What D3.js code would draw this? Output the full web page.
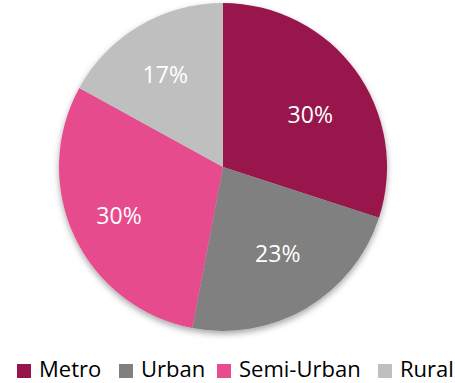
<!DOCTYPE html>
<html>
<head>
<meta charset="utf-8">
<script src="https://cdn.jsdelivr.net/npm/d3@7/dist/d3.min.js"></script>
<style>
  html, body { margin: 0; padding: 0; background: #fff; }
  svg { display: block; }
</style>
</head>
<body>
<svg id="chart" width="455" height="383"></svg>
<script>
// Share of customers by location type
const categories = ["Metro", "Urban", "Semi-Urban", "Rural"];
const shares = [30, 23, 30, 17];
const palette = ["#98154B", "#808080", "#E64C8E", "#BFBFBF"];

const width = 455, height = 383;
const cx = 223, cy = 167, radius = 164;
const font = "'Open Sans', 'Noto Sans', sans-serif";
// small per-slice adjustments of the value labels (best-fit placement)
const labelNudge = [[5, 7], [3, -1], [-12, 5], [-6, -5]];

const svg = d3.select("#chart");

// soft shadow under the pie
const defs = svg.append("defs");
const f = defs.append("filter").attr("id", "shadow")
  .attr("x", "-20%").attr("y", "-20%").attr("width", "140%").attr("height", "140%");
f.append("feDropShadow").attr("dx", 0).attr("dy", 3).attr("stdDeviation", 3)
  .attr("flood-color", "#000").attr("flood-opacity", 0.35);

const color = d3.scaleOrdinal().domain(categories).range(palette);
const pie = d3.pie().sort(null).value(d => d.value);
const data = categories.map((c, i) => ({ name: c, value: shares[i] }));
const arcs = pie(data);
const arc = d3.arc().innerRadius(0).outerRadius(radius);
const labelArc = d3.arc().innerRadius(radius * 0.62).outerRadius(radius * 0.62);

const g = svg.append("g").attr("transform", `translate(${cx},${cy})`);
g.append("g").attr("filter", "url(#shadow)")
  .selectAll("path").data(arcs).join("path")
  .attr("d", arc)
  .attr("fill", d => color(d.data.name));

g.selectAll("text").data(arcs).join("text")
  .attr("transform", (d, i) => {
    const [x, y] = labelArc.centroid(d);
    return `translate(${x + labelNudge[i][0]},${y + labelNudge[i][1]})`;
  })
  .attr("text-anchor", "middle")
  .attr("dy", "0.36em")
  .attr("fill", "#fff")
  .style("font-family", font)
  .style("font-size", "23px")
  .text(d => d.data.value + "%");

// legend
const legend = svg.append("g").attr("transform", "translate(0,370)");
const legendX = [17, 119, 217, 378];
const items = legend.selectAll("g").data(data).join("g")
  .attr("transform", (d, i) => `translate(${legendX[i]},0)`);
items.append("rect")
  .attr("x", 0).attr("y", -6).attr("width", 14).attr("height", 14)
  .attr("fill", d => color(d.name));
items.append("text")
  .attr("x", 22).attr("y", 6.5)
  .attr("fill", "#000")
  .style("font-family", font)
  .style("font-size", "22px")
  .text(d => d.name);
</script>
</body>
</html>
